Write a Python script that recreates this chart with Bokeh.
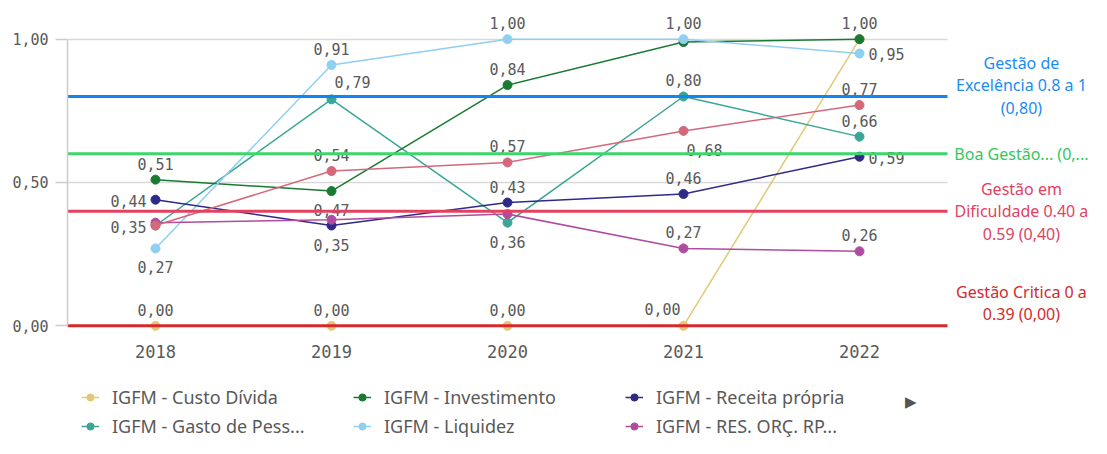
from bokeh.plotting import figure
from bokeh.models import (Range1d, Legend, LegendItem, ColumnDataSource, FixedTicker)
from bokeh.core.properties import value
from bokeh.embed import file_html
from bokeh.resources import INLINE

# ---------------- data ----------------
years = ["2018", "2019", "2020", "2021", "2022"]

custo_divida    = [0.00, 0.00, 0.00, 0.00, 1.00]
gasto_pessoal   = [0.35, 0.79, 0.36, 0.80, 0.66]
investimento    = [0.51, 0.47, 0.84, 0.99, 1.00]
liquidez        = [0.27, 0.91, 1.00, 1.00, 0.95]
receita_propria = [0.44, 0.35, 0.43, 0.46, 0.59]
res_orc_rp      = [0.36, 0.37, 0.39, 0.27, 0.26]
igfm_outro      = [0.35, 0.54, 0.57, 0.68, 0.77]   # 7th series (off the visible legend page)

legend_names = ["IGFM - Custo Dívida", "IGFM - Gasto de Pess...", "IGFM - Investimento",
                "IGFM - Liquidez", "IGFM - Receita própria", "IGFM - RES. ORÇ. RP..."]

y_ticks = [0.0, 0.5, 1.0]
y_tick_labels = ["0,00", "0,50", "1,00"]

ref_values = [0.8, 0.6, 0.4, 0.0]
ref_labels = ["Gestão de\nExcelência 0.8 a 1\n(0,80)",
              "Boa Gestão... (0,...",
              "Gestão em\nDificuldade 0.40 a\n0.59 (0,40)",
              "Gestão Critica 0 a\n0.39 (0,00)"]

# ---------------- style ----------------
series = [
    (custo_divida,    "#e2c977", ["a", "a", "a", "al", "-"]),
    (gasto_pessoal,   "#3aa696", ["l", "ar", "b", "a", "a"]),
    (investimento,    "#1a7a33", ["a", "b", "a", "-", "a"]),
    (liquidez,        "#8fcff1", ["b", "a", "a", "a", "r"]),
    (receita_propria, "#2f2a88", ["l", "b", "a", "a", "r"]),
    (res_orc_rp,      "#b04c9f", ["-", "-", "-", "a", "a"]),
    (igfm_outro,      "#d4687a", ["-", "a", "a", "br", "a"]),
]
ref_colors = ["#0f86f2", "#3dd66a", "#e2425f", "#d7282c"]
ref_text_colors = ["#1a8cf2", "#34c75d", "#e2425f", "#d42a2e"]
ref_text_dy = [-11, 0, 0, -23]

PLACE = {"a": (0, -16, "center"), "b": (0, 19, "center"), "l": (-9, 1, "right"),
         "r": (9, 1, "left"), "ar": (21, -17, "center"), "br": (21, 19, "center"),
         "al": (-21, -17, "center")}

GREY = "#595959"
MONO = value("DejaVu Sans Mono")
SANS = value("Noto Sans")

n = len(years)
xpos = [i + 0.5 for i in range(n)]          # category centres
CAPTION_X = n + 0.42                         # caption column, right of the last category
X_END = n + 144 / 176                        # frame extends over the caption column

p = figure(width=1091, height=438, x_range=Range1d(0, X_END), y_range=Range1d(-0.393, 1.093),
           output_backend="svg", toolbar_location=None, x_axis_location=None,
           min_border_left=67, min_border_right=0, min_border_top=12, min_border_bottom=0)
p.outline_line_color = None
p.xgrid.visible = False
p.ygrid.ticker = FixedTicker(ticks=y_ticks)
p.ygrid.grid_line_color = "#d9d9d9"
p.ygrid.grid_line_width = 1.5
try:
    p.ygrid.cross_bounds = (0, n)
except AttributeError:
    p.ygrid.visible = False
    p.segment(x0=[0] * len(y_ticks), x1=[n] * len(y_ticks), y0=y_ticks, y1=y_ticks,
              line_color="#d9d9d9", line_width=1.5)

ya = p.yaxis[0]
ya.ticker = FixedTicker(ticks=y_ticks)
ya.major_label_overrides = {t: s for t, s in zip(y_ticks, y_tick_labels)}
ya.bounds = (0, 1)
ya.axis_line_color = "#cccccc"
ya.axis_line_width = 1.5
ya.major_tick_line_color = "#cccccc"
ya.major_tick_line_width = 1.5
ya.major_tick_out = 12
ya.major_tick_in = 0
ya.minor_tick_line_color = None
ya.major_label_standoff = 7
ya.major_label_text_font = "DejaVu Sans Mono"
ya.major_label_text_font_size = "15px"
ya.major_label_text_color = GREY

# category (year) labels under the zero line
p.text(x=xpos, y=[0] * n, text=years, y_offset=26, text_align="center",
       text_baseline="middle", text_font=MONO, text_font_size="17px", text_color=GREY)

legend_items = []
for i, (vals, col, places) in enumerate(series):
    src = ColumnDataSource(dict(x=xpos, y=vals))
    lr = p.line("x", "y", source=src, line_color=col, line_width=1.5)
    sr = p.scatter("x", "y", source=src, size=9, fill_color=col, line_color=col)
    if i < len(legend_names):
        legend_items.append(LegendItem(label=legend_names[i], renderers=[lr, sr]))
    groups = {}
    for xv, v, pl in zip(xpos, vals, places):
        if pl == "-":
            continue
        dx, dy, al = PLACE[pl]
        g = groups.setdefault(al, dict(x=[], y=[], t=[], dx=[], dy=[]))
        g["x"].append(xv); g["y"].append(v)
        g["t"].append(f"{v:.2f}".replace(".", ","))
        g["dx"].append(dx); g["dy"].append(dy)
    for al, g in groups.items():
        p.text("x", "y", text="t", x_offset="dx", y_offset="dy",
               source=ColumnDataSource(g), text_align=al, text_baseline="middle",
               text_font=MONO, text_font_size="15px", text_color=GREY)

# reference lines (over the series) and their captions
p.segment(x0=[0] * len(ref_values), x1=[n] * len(ref_values), y0=ref_values, y1=ref_values,
          line_color=ref_colors, line_width=3)
cap_src = ColumnDataSource(dict(x=[CAPTION_X] * len(ref_values), y=ref_values, t=ref_labels,
                                c=ref_text_colors, dy=ref_text_dy))
p.text("x", "y", text="t", y_offset="dy", text_color="c", source=cap_src,
       text_align="center", text_baseline="middle", text_font=SANS,
       text_font_size="16px", text_line_height=1.03)

# legend page arrow
p.text(x=[4.79], y=[-0.264], text=["▶"], text_align="center", text_baseline="middle",
       text_color="#555555", text_font_size="15px")

legend = Legend(items=legend_items, location=(14, 0), orientation="vertical", nrows=2,
                glyph_width=18, glyph_height=18, label_height=18, label_standoff=13,
                label_width=236, spacing=5, padding=0, margin=0,
                border_line_color=None, background_fill_alpha=0,
                label_text_font="Noto Sans", label_text_font_size="18px",
                label_text_color=GREY)
p.add_layout(legend)

open("out.html", "w").write(file_html(p, INLINE))
